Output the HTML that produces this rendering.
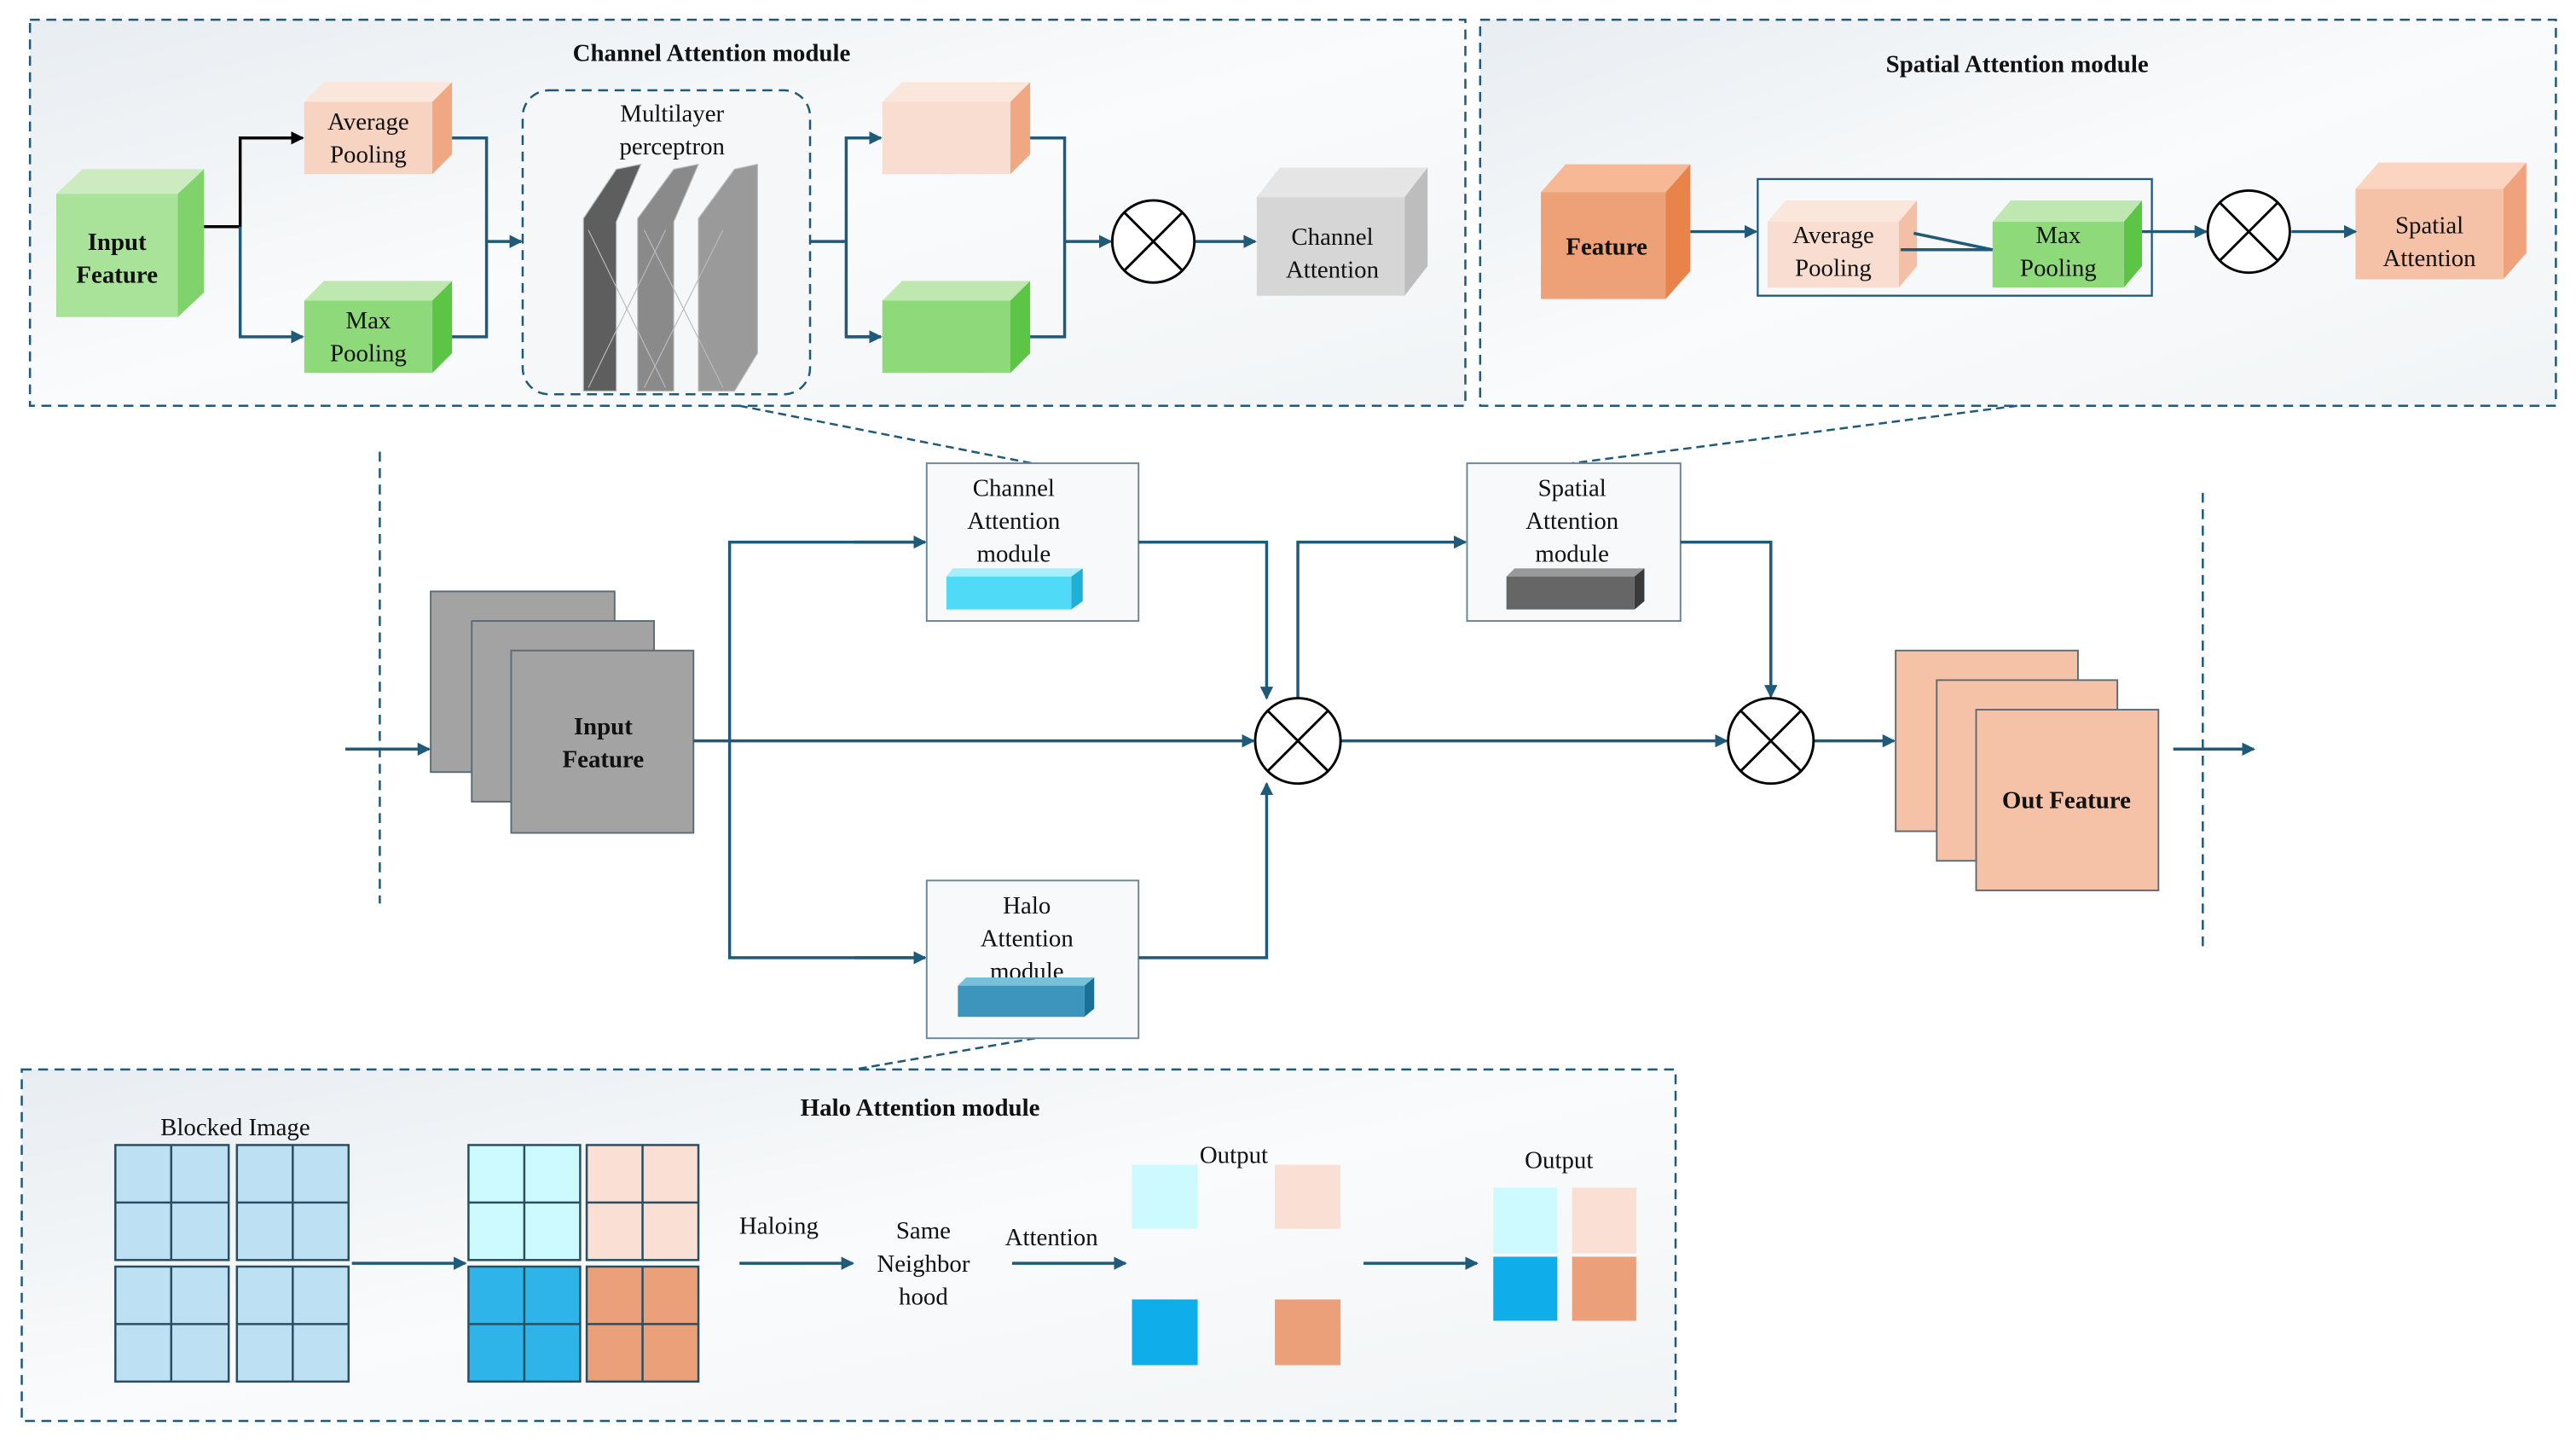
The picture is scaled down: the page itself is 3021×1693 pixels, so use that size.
<!DOCTYPE html>
<html><head><meta charset="utf-8"><style>html,body{margin:0;padding:0;background:#fff}svg{display:block}text{font-family:"Liberation Serif",serif;fill:#111}</style></head><body>
<svg width="3021" height="1693" viewBox="0 0 1568 879" xmlns="http://www.w3.org/2000/svg">
<defs>
<marker id="a" markerWidth="8" markerHeight="8" refX="7" refY="4" orient="auto" markerUnits="userSpaceOnUse"><path d="M0,0 L8,4 L0,8 Z" fill="#1F5A7A"/></marker>
<marker id="k" markerWidth="8" markerHeight="8" refX="7" refY="4" orient="auto" markerUnits="userSpaceOnUse"><path d="M0,0 L8,4 L0,8 Z" fill="#000"/></marker>
<linearGradient id="bg" x1="0" y1="0" x2="1" y2="1"><stop offset="0" stop-color="#E8EDF1"/><stop offset="0.5" stop-color="#FAFBFC"/><stop offset="1" stop-color="#F1F4F6"/></linearGradient>
</defs>
<g fill="none" stroke="#1F5A7A" stroke-width="1.3">
<rect x="18" y="12" width="874" height="235" fill="url(#bg)" stroke-dasharray="6,4"/>
<rect x="901" y="12" width="655" height="235" fill="url(#bg)" stroke-dasharray="6,4"/>
<rect x="13" y="651" width="1007" height="214" fill="url(#bg)" stroke-dasharray="6,4"/>
<rect x="318" y="55" width="175" height="185" rx="16" fill="#F5F7F9" stroke-dasharray="6,4"/>
<line x1="231" y1="275" x2="231" y2="550" stroke-dasharray="6,4"/>
<line x1="1341" y1="300" x2="1341" y2="578" stroke-dasharray="6,4"/>
<line x1="450" y1="247" x2="628" y2="282" stroke-dasharray="5,3"/>
<line x1="1228" y1="247" x2="957" y2="282" stroke-dasharray="5,3"/>
<line x1="630" y1="632" x2="520" y2="651" stroke-dasharray="5,3"/>
</g>
<text x="433" y="37" font-size="15" font-weight="bold" text-anchor="middle">Channel Attention module</text>
<text x="1228" y="44" font-size="15" font-weight="bold" text-anchor="middle">Spatial Attention module</text>
<text x="560" y="679" font-size="15" font-weight="bold" text-anchor="middle">Halo Attention module</text>

<!-- Channel attention module cubes -->
<polygon points="34,118 50,103 124,103 108,118" fill="#CDEBC0"/><polygon points="108,118 124,103 124,178 108,193" fill="#7FD36A"/><rect x="34" y="118" width="74" height="75" fill="#A9E39A"/>
<text x="71" y="152" font-size="15" font-weight="bold" text-anchor="middle">Input</text><text x="71" y="172" font-size="15" font-weight="bold" text-anchor="middle">Feature</text>
<polygon points="185,62 197,50 275,50 263,62" fill="#FBE6DC"/><polygon points="263,62 275,50 275,94 263,106" fill="#F0A882"/><rect x="185" y="62" width="78" height="44" fill="#F7D3C2"/>
<text x="224" y="79" font-size="15" text-anchor="middle">Average</text><text x="224" y="99" font-size="15" text-anchor="middle">Pooling</text>
<polygon points="185,183 197,171 275,171 263,183" fill="#BFE8B0"/><polygon points="263,183 275,171 275,215 263,227" fill="#5CC545"/><rect x="185" y="183" width="78" height="44" fill="#8ED97A"/>
<text x="224" y="200" font-size="15" text-anchor="middle">Max</text><text x="224" y="220" font-size="15" text-anchor="middle">Pooling</text>
<text x="409" y="74" font-size="15" text-anchor="middle">Multilayer</text><text x="409" y="94" font-size="15" text-anchor="middle">perceptron</text>
<g stroke="#bbb" stroke-width="0.6">
<polygon points="355,133 375,103 390,100 375,135 375,238 355,238" fill="#5e5e5e"/>
<polygon points="388,133 410,103 425,100 410,135 410,238 388,238" fill="#8a8a8a"/>
<polygon points="425,133 447,103 461,100 461,215 447,238 425,238" fill="#9a9a9a"/>
<line x1="358" y1="140" x2="405" y2="236"/><line x1="405" y1="140" x2="358" y2="236"/><line x1="392" y1="140" x2="440" y2="236"/><line x1="440" y1="140" x2="392" y2="236"/>
</g>
<polygon points="537,62 549,50 627,50 615,62" fill="#FBE6DC"/><polygon points="615,62 627,50 627,94 615,106" fill="#F0A882"/><rect x="537" y="62" width="78" height="44" fill="#F9DDD0"/>
<polygon points="537,183 549,171 627,171 615,183" fill="#BFE8B0"/><polygon points="615,183 627,171 627,215 615,227" fill="#5CC545"/><rect x="537" y="183" width="78" height="44" fill="#8ED97A"/>
<polygon points="765,120 779,102 869,102 855,120" fill="#E5E5E5"/><polygon points="855,120 869,102 869,162 855,180" fill="#BDBDBD"/><rect x="765" y="120" width="90" height="60" fill="#D6D6D6"/>
<text x="811" y="149" font-size="15" text-anchor="middle">Channel</text><text x="811" y="169" font-size="15" text-anchor="middle">Attention</text>
<g fill="none" stroke="#1F5A7A" stroke-width="1.8">
<polyline points="124,138 146,138 146,84 184,84" stroke="#000" marker-end="url(#k)"/>
<polyline points="146,138 146,205 184,205" marker-end="url(#a)"/>
<polyline points="275,84 296,84 296,205 275,205"/><line x1="296" y1="147" x2="317" y2="147" marker-end="url(#a)"/>
<polyline points="493,147 515,147"/><polyline points="536,84 515,84 515,205 536,205"/>
<line x1="515" y1="84" x2="536" y2="84" marker-end="url(#a)"/><line x1="515" y1="205" x2="536" y2="205" marker-end="url(#a)"/>
<polyline points="627,84 648,84 648,205 627,205"/><line x1="648" y1="147" x2="676" y2="147" marker-end="url(#a)"/>
<line x1="727" y1="147" x2="764" y2="147" marker-end="url(#a)"/>
</g>
<g stroke="#000" stroke-width="1.5" fill="#fff"><circle cx="702" cy="147" r="25"/><line x1="684" y1="129" x2="720" y2="165"/><line x1="720" y1="129" x2="684" y2="165"/></g>

<!-- Spatial module -->
<polygon points="938,117 953,100 1029,100 1014,117" fill="#F7B896"/><polygon points="1014,117 1029,100 1029,165 1014,182" fill="#E8834A"/><rect x="938" y="117" width="76" height="65" fill="#EEA077"/>
<text x="978" y="155" font-size="15" font-weight="bold" text-anchor="middle">Feature</text>
<rect x="1070" y="109" width="240" height="71" fill="#F6F8FA" stroke="#1F5A7A" stroke-width="1.2"/>
<polygon points="1076,135 1087,122 1167,122 1156,135" fill="#FBE6DC"/><polygon points="1156,135 1167,122 1167,162 1156,175" fill="#F3BFA6"/><rect x="1076" y="135" width="80" height="40" fill="#F9DDD0"/>
<text x="1116" y="148" font-size="15" text-anchor="middle">Average</text><text x="1116" y="168" font-size="15" text-anchor="middle">Pooling</text>
<polygon points="1213,135 1224,122 1304,122 1293,135" fill="#BFE8B0"/><polygon points="1293,135 1304,122 1304,162 1293,175" fill="#5CC545"/><rect x="1213" y="135" width="80" height="40" fill="#8ED97A"/>
<text x="1253" y="148" font-size="15" text-anchor="middle">Max</text><text x="1253" y="168" font-size="15" text-anchor="middle">Pooling</text>
<polygon points="1434,115 1448,99 1538,99 1524,115" fill="#FBD5C2"/><polygon points="1524,115 1538,99 1538,154 1524,170" fill="#EFA27C"/><rect x="1434" y="115" width="90" height="55" fill="#F5C2A8"/>
<text x="1479" y="142" font-size="15" text-anchor="middle">Spatial</text><text x="1479" y="162" font-size="15" text-anchor="middle">Attention</text>
<g fill="none" stroke="#1F5A7A" stroke-width="1.8">
<line x1="1029" y1="141" x2="1069" y2="141" marker-end="url(#a)"/>
<line x1="1157" y1="152" x2="1213" y2="152"/><line x1="1165" y1="142" x2="1213" y2="152"/>
<line x1="1304" y1="141" x2="1343" y2="141" marker-end="url(#a)"/>
<line x1="1395" y1="141" x2="1434" y2="141" marker-end="url(#a)"/>
</g>
<g stroke="#000" stroke-width="1.5" fill="#fff"><circle cx="1369" cy="141" r="25"/><line x1="1351" y1="123" x2="1387" y2="159"/><line x1="1387" y1="123" x2="1351" y2="159"/></g>

<!-- Main flow -->
<g stroke="#5C6B73" stroke-width="1">
<rect x="262" y="360" width="112" height="110" fill="#A3A3A3"/>
<rect x="287" y="378" width="111" height="110" fill="#A3A3A3"/>
<rect x="311" y="396" width="111" height="111" fill="#A3A3A3"/>
<rect x="1154" y="396" width="111" height="110" fill="#F5C2A8"/>
<rect x="1179" y="414" width="110" height="110" fill="#F5C2A8"/>
<rect x="1203" y="432" width="111" height="110" fill="#F5C2A8"/>
</g>
<text x="367" y="447" font-size="15" font-weight="bold" text-anchor="middle">Input</text><text x="367" y="467" font-size="15" font-weight="bold" text-anchor="middle">Feature</text>
<text x="1258" y="492" font-size="15" font-weight="bold" text-anchor="middle">Out Feature</text>
<g stroke="#6A8595" stroke-width="1"><rect x="564" y="282" width="129" height="96" fill="#F7F9FA"/><rect x="564" y="536" width="129" height="96" fill="#F7F9FA"/><rect x="893" y="282" width="130" height="96" fill="#F7F9FA"/></g>
<text x="617" y="302" font-size="15" text-anchor="middle">Channel</text><text x="617" y="322" font-size="15" text-anchor="middle">Attention</text><text x="617" y="342" font-size="15" text-anchor="middle">module</text>
<text x="625" y="556" font-size="15" text-anchor="middle">Halo</text><text x="625" y="576" font-size="15" text-anchor="middle">Attention</text><text x="625" y="596" font-size="15" text-anchor="middle">module</text>
<text x="957" y="302" font-size="15" text-anchor="middle">Spatial</text><text x="957" y="322" font-size="15" text-anchor="middle">Attention</text><text x="957" y="342" font-size="15" text-anchor="middle">module</text>
<polygon points="576,351 580,346 659,346 652,351" fill="#A8EEFA"/><polygon points="652,351 659,346 659,366 652,371" fill="#1FB0D8"/><rect x="576" y="351" width="76" height="20" fill="#4FDAF7"/>
<polygon points="583,600 588,595 666,595 660,600" fill="#7AC0DC"/><polygon points="660,600 666,595 666,614 660,619" fill="#1C6F96"/><rect x="583" y="600" width="77" height="19" fill="#3D95BE"/>
<polygon points="917,351 922,346 1001,346 995,351" fill="#999"/><polygon points="995,351 1001,346 1001,366 995,371" fill="#3a3a3a"/><rect x="917" y="351" width="78" height="20" fill="#666"/>
<g fill="none" stroke="#1F5A7A" stroke-width="1.8">
<line x1="210" y1="456" x2="261" y2="456" marker-end="url(#a)"/>
<line x1="422" y1="451" x2="763" y2="451" marker-end="url(#a)"/>
<polyline points="563,330 444,330 444,583 563,583"/>
<line x1="520" y1="330" x2="563" y2="330" marker-end="url(#a)"/><line x1="520" y1="583" x2="563" y2="583" marker-end="url(#a)"/>
<polyline points="693,330 771,330 771,425" marker-end="url(#a)"/>
<polyline points="693,583 771,583 771,477" marker-end="url(#a)"/>
<polyline points="790,425 790,330 892,330" marker-end="url(#a)"/>
<polyline points="1023,330 1078,330 1078,424" marker-end="url(#a)"/>
<line x1="816" y1="451" x2="1051" y2="451" marker-end="url(#a)"/>
<line x1="1104" y1="451" x2="1153" y2="451" marker-end="url(#a)"/>
<line x1="1323" y1="456" x2="1372" y2="456" marker-end="url(#a)"/>
</g>
<g stroke="#000" stroke-width="1.5" fill="#fff">
<circle cx="790" cy="451" r="26"/><line x1="772" y1="433" x2="808" y2="469"/><line x1="808" y1="433" x2="772" y2="469"/>
<circle cx="1078" cy="451" r="26"/><line x1="1060" y1="433" x2="1096" y2="469"/><line x1="1096" y1="433" x2="1060" y2="469"/>
</g>

<!-- Halo module -->
<text x="143" y="691" font-size="15" text-anchor="middle">Blocked Image</text>
<g stroke="#2A4F63" stroke-width="1.3">
<g fill="#BEE0F3"><rect x="70" y="697" width="69" height="70"/><rect x="144" y="697" width="68" height="70"/><rect x="70" y="771" width="69" height="70"/><rect x="144" y="771" width="68" height="70"/></g>
<rect x="285" y="697" width="68" height="70" fill="#CCFAFF"/><rect x="357" y="697" width="68" height="70" fill="#F9DFD4"/>
<rect x="285" y="771" width="68" height="70" fill="#2EB4E8"/><rect x="357" y="771" width="68" height="70" fill="#EBA07A"/>
<line x1="70" y1="732" x2="139" y2="732"/><line x1="104" y1="697" x2="104" y2="767"/>
<line x1="144" y1="732" x2="212" y2="732"/><line x1="178" y1="697" x2="178" y2="767"/>
<line x1="70" y1="806" x2="139" y2="806"/><line x1="104" y1="771" x2="104" y2="841"/>
<line x1="144" y1="806" x2="212" y2="806"/><line x1="178" y1="771" x2="178" y2="841"/>
<line x1="285" y1="732" x2="353" y2="732"/><line x1="319" y1="697" x2="319" y2="767"/>
<line x1="357" y1="732" x2="425" y2="732"/><line x1="391" y1="697" x2="391" y2="767"/>
<line x1="285" y1="806" x2="353" y2="806"/><line x1="319" y1="771" x2="319" y2="841"/>
<line x1="357" y1="806" x2="425" y2="806"/><line x1="391" y1="771" x2="391" y2="841"/>
</g>
<text x="474" y="751" font-size="15" text-anchor="middle">Haloing</text>
<text x="562" y="754" font-size="15" text-anchor="middle">Same</text><text x="562" y="774" font-size="15" text-anchor="middle">Neighbor</text><text x="562" y="794" font-size="15" text-anchor="middle">hood</text>
<text x="640" y="758" font-size="15" text-anchor="middle">Attention</text>
<text x="751" y="708" font-size="15" text-anchor="middle">Output</text>
<text x="949" y="711" font-size="15" text-anchor="middle">Output</text>
<rect x="689" y="709" width="40" height="39" fill="#CCFAFF"/><rect x="776" y="709" width="40" height="39" fill="#F9DFD4"/>
<rect x="689" y="791" width="40" height="40" fill="#10ADEB"/><rect x="776" y="791" width="40" height="40" fill="#EBA07A"/>
<rect x="909" y="723" width="39" height="40" fill="#CCFAFF"/><rect x="957" y="723" width="39" height="40" fill="#F9DFD4"/>
<rect x="909" y="765" width="39" height="39" fill="#10ADEB"/><rect x="957" y="765" width="39" height="39" fill="#EBA07A"/>
<g fill="none" stroke="#1F5A7A" stroke-width="1.8">
<line x1="214" y1="769" x2="283" y2="769" marker-end="url(#a)"/>
<line x1="450" y1="769" x2="519" y2="769" marker-end="url(#a)"/>
<line x1="616" y1="769" x2="685" y2="769" marker-end="url(#a)"/>
<line x1="830" y1="769" x2="899" y2="769" marker-end="url(#a)"/>
</g>
</svg>
</body></html>
